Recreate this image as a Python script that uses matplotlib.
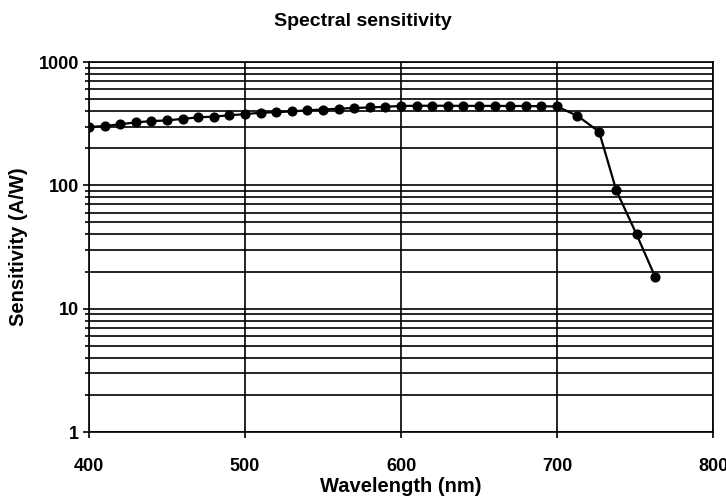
import matplotlib
matplotlib.use("Agg")
import matplotlib.pyplot as plt
from matplotlib.ticker import LogLocator, FixedLocator, NullFormatter

plt.rcParams['font.family'] = ['Liberation Sans', 'DejaVu Sans']

# spectral sensitivity data
wavelength = [400, 410, 420, 430, 440, 450, 460, 470, 480, 490,
              500, 510, 520, 530, 540, 550, 560, 570, 580, 590,
              600, 610, 620, 630, 640, 650, 660, 670, 680, 690,
              700, 713, 727, 738, 751, 763]
sensitivity = [297, 303, 313, 324, 332, 336, 346, 356, 361, 370,
               378, 388, 392, 398, 406, 412, 418, 424, 428, 434,
               440, 442, 442, 442, 441, 441, 441, 440, 440, 438,
               436, 367, 272, 91, 40, 18]

x_ticks = [400, 500, 600, 700, 800]
y_ticks = [1, 10, 100, 1000]
y_labels = ["1", "10", "100", "1000"]

fig = plt.figure(figsize=(7.26, 5.01), dpi=100)
ax = fig.add_axes([0.1226, 0.1377, 0.8595, 0.7385])

ax.plot(wavelength, sensitivity, color='black', lw=1.6,
        marker='o', markersize=6.3, zorder=3)

ax.set_yscale('log')
ax.set_xlim(400, 800)
ax.set_ylim(1, 1000)

ax.xaxis.set_major_locator(FixedLocator(x_ticks))
ax.set_xticklabels([str(t) for t in x_ticks])
ax.yaxis.set_major_locator(FixedLocator(y_ticks))
ax.set_yticklabels(y_labels)
ax.yaxis.set_minor_locator(LogLocator(base=10, subs=range(2, 10)))
ax.yaxis.set_minor_formatter(NullFormatter())

ax.grid(True, which='major', axis='both', color='black', lw=1.2)
ax.grid(True, which='minor', axis='y', color='black', lw=1.2)
ax.set_axisbelow(True)

for s in ax.spines.values():
    s.set_linewidth(1.2)

ax.tick_params(axis='both', which='major', direction='out', length=4,
               width=1.2, labelsize=13)
ax.tick_params(axis='x', which='major', pad=15)
ax.tick_params(axis='y', which='major', pad=3)
ax.tick_params(axis='y', which='minor', length=3, width=1.2)
for lab in ax.get_xticklabels() + ax.get_yticklabels():
    lab.set_fontweight('bold')

ax.set_xlabel('Wavelength (nm)', fontsize=14.5, fontweight='bold', labelpad=1)
ax.set_ylabel('Sensitivity (A/W)', fontsize=14.5, fontweight='bold', labelpad=8)
fig.suptitle('Spectral sensitivity', fontsize=14, fontweight='bold', y=0.975)

fig.savefig('out.png', dpi=100)
